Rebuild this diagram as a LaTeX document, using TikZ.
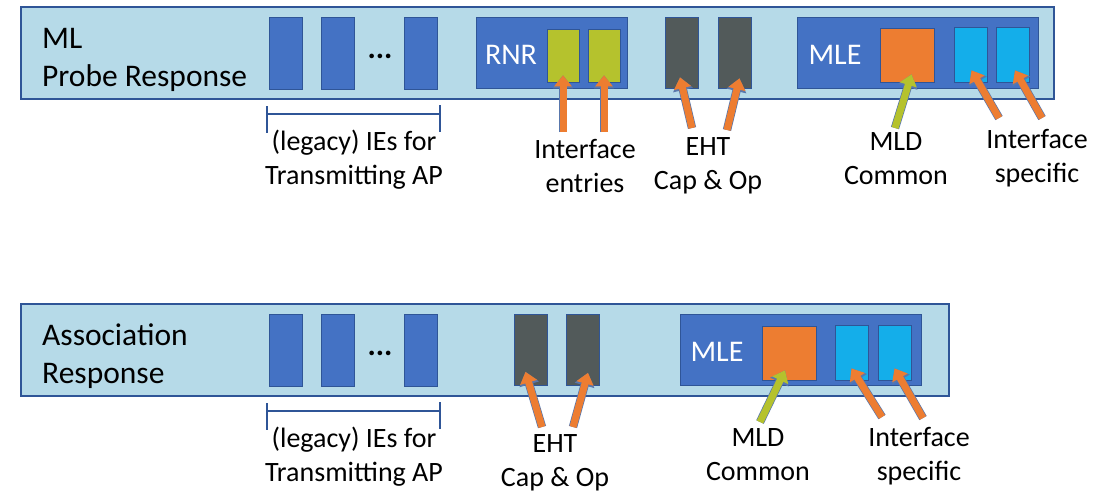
\documentclass[tikz,border=0pt]{standalone}
\usepackage{fontspec}
\setmainfont{Carlito}
\usetikzlibrary{arrows.meta}

\definecolor{paleblue}{HTML}{B6DAE8}
\definecolor{edgeblue}{HTML}{2F5597}
\definecolor{ieblue}{HTML}{4472C4}
\definecolor{ehtgray}{HTML}{525A5A}
\definecolor{limegreen}{HTML}{B5C22D}
\definecolor{mldorange}{HTML}{ED7D31}
\definecolor{ifcyan}{HTML}{14AEEA}

\begin{document}
\begin{tikzpicture}[x=1pt, y=-1pt,
  frame/.style={draw=edgeblue, fill=paleblue, line width=1.6pt, inner sep=0},
  field/.style={draw=edgeblue, line width=0.7pt, inner sep=0},
  ie/.style={field, fill=ieblue, minimum width=33, minimum height=72},
  eht/.style={field, fill=ehtgray, minimum width=33, minimum height=71},
  elem/.style={field, fill=ieblue, minimum width=241, minimum height=71},
  entry/.style={field, fill=limegreen, minimum width=32, minimum height=53},
  mld/.style={field, fill=mldorange, minimum width=54, minimum height=54},
  iface/.style={field, fill=ifcyan, minimum width=33, minimum height=55},
  title/.style={inner sep=0, anchor=base west, align=left, font=\fontsize{31.5}{38}\selectfont},
  inside/.style={inner sep=0, anchor=base, text=white, font=\fontsize{30}{36}\selectfont},
  note/.style={inner sep=0, anchor=base, align=center, font=\fontsize{28}{34}\selectfont},
  arr/.style={preaction={draw=edgeblue!80, line width=8.4pt, -{Triangle[width=19.5pt,length=13pt]}},
    line width=7pt, draw=mldorange, -{Triangle[width=17pt,length=11pt]}},
  bracket/.style={draw=edgeblue, line width=2.6pt}]
\useasboundingbox (0,0) rectangle (1110,491);

\node[frame, minimum width=1033, minimum height=92] (probe) at (537.5,53) {}; % probe response frame
\node[frame, minimum width=928, minimum height=92] (assoc) at (485,350) {}; % association response frame

% legacy IEs and their bracket, same in both frames
\foreach \y in {0,297} {
  \node[ie] (iea\y) at (285.5,53+\y) {};
  \node[ie] (ieb\y) at (337.5,53+\y) {};
  \node[ie] (iec\y) at (421,53+\y) {};
  \node[inner sep=0, anchor=base, font=\fontsize{31}{36}\selectfont\bfseries] (dots\y) at (380,58+\y) {...};
  \draw[bracket] (267,106+\y) -- (267,133+\y) (267,114+\y) -- (440,114+\y) (440,105+\y) -- (440,132+\y);
  \node[note] (legacy\y) at (354,184+\y) {(legacy) IEs for\\Transmitting AP};
}

% ML probe response
\node[title] (ptitle) at (42,86) {ML\\Probe Response};
\node[field, fill=ieblue, minimum width=151, minimum height=71] (rnr) at (551.5,52.5) {};
\node[inside] at (511,64) {RNR};
\node[entry] (ent1) at (563,55.5) {};
\node[entry] (ent2) at (604,55.5) {};
\node[eht] (cap1) at (682,52.5) {};
\node[eht] (cap2) at (734.5,52.5) {};
\node[elem] (mle1) at (917.5,52.5) {};
\node[inside] at (835,64) {MLE};
\node[mld] (mld1) at (907.5,55) {};
\node[iface] (if1) at (970.5,54.5) {};
\node[iface] (if2) at (1013,54.5) {};

\node[note] (entlbl) at (585,192) {Interface\\entries};
\node[note] (caplbl1) at (708,189) {EHT\\Cap \& Op};
\node[note] (mldlbl1) at (896,184) {MLD\\Common};
\node[note] (iflbl1) at (1037,182) {Interface\\specific};

\coordinate (ta1) at (563,132);
\coordinate (ta2) at (604,132);
\coordinate (ta3) at (692,128);
\coordinate (ta4) at (727,130);
\coordinate (ta5) at (895,128);
\coordinate (ta6) at (999,118);
\coordinate (ta7) at (1042,118);
\draw[arr] (ta1) -- ([yshift=7pt]ent1.south);
\draw[arr] (ta2) -- ([yshift=7pt]ent2.south);
\draw[arr] (ta3) -- ([xshift=-2pt,yshift=11pt]cap1.south);
\draw[arr] (ta4) -- ([xshift=5pt,yshift=10pt]cap2.south);
\draw[arr, draw=limegreen] (ta5) -- ([xshift=4pt,yshift=8pt]mld1.south);
\draw[arr] (ta6) -- ([xshift=1pt,yshift=12pt]if1.south);
\draw[arr] (ta7) -- ([xshift=2pt,yshift=12pt]if2.south);

% association response
\node[title] (atitle) at (42,383) {Association\\Response};
\node[eht] (cap3) at (530.5,350) {};
\node[eht] (cap4) at (583,350) {};
\node[elem] (mle2) at (800.5,350) {};
\node[inside] at (717,361) {MLE};
\node[mld] (mld2) at (789,353) {};
\node[iface] (if3) at (851.5,352.5) {};
\node[iface] (if4) at (894.5,352.5) {};

\node[note] (caplbl2) at (555,486) {EHT\\Cap \& Op};
\node[note] (mldlbl2) at (758,480) {MLD\\Common};
\node[note] (iflbl2) at (919,480) {Interface\\specific};

\coordinate (tb1) at (542,427);
\coordinate (tb2) at (573,427);
\coordinate (tb3) at (760,422);
\coordinate (tb4) at (882,417);
\coordinate (tb5) at (923,418);
\draw[arr] (tb1) -- ([xshift=-5pt,yshift=14pt]cap3.south);
\draw[arr] (tb2) -- ([xshift=5pt,yshift=13pt]cap4.south);
\draw[arr, draw=limegreen] (tb3) -- ([xshift=-4pt,yshift=10pt]mld2.south);
\draw[arr] (tb4) -- ([yshift=12pt]if3.south);
\draw[arr] (tb5) -- ([yshift=12pt]if4.south);
\end{tikzpicture}
\end{document}
